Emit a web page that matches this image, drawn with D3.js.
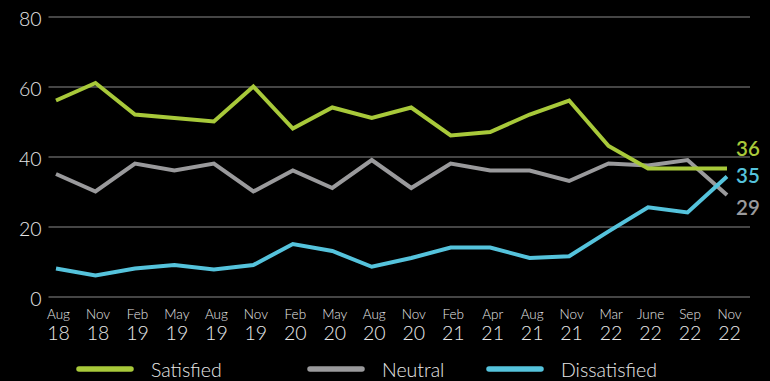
<!DOCTYPE html>
<html>
<head>
<meta charset="utf-8">
<script src="https://cdn.jsdelivr.net/npm/d3@7"></script>
<style>
  html, body { margin: 0; padding: 0; background: #000; }
  svg { display: block; }
  text { font-family: Lato, "Open Sans", sans-serif; }
</style>
</head>
<body>
<svg id="chart" width="770" height="381"></svg>
<script>
const months = ["Aug","Nov","Feb","May","Aug","Nov","Feb","May","Aug","Nov","Feb","Apr","Aug","Nov","Mar","June","Sep","Nov"];
const years  = ["18","18","19","19","19","19","20","20","20","20","21","21","21","21","22","22","22","22"];
const categories = months.map((m, i) => m + " " + years[i]);

const satisfied    = [56, 61, 52, 51, 50, 60, 48, 54, 51, 54, 46, 47, 52, 56, 43, 36.6, 36.6, 36.6];
const neutral      = [35, 30, 38, 36, 38, 30, 36, 31, 39, 31, 38, 36, 36, 33, 38, 37.4, 39, 29];
const dissatisfied = [8, 6, 8, 9, 7.7, 9, 15, 13, 8.5, 11, 14, 14, 11, 11.5, 18.6, 25.5, 24, 34.3];

const seriesNames = ["Satisfied", "Neutral", "Dissatisfied"];
const seriesColors = ["#a8c93a", "#9a9a9c", "#55c3dc"];
const endLabels = ["36", "29", "35"];
const yTicks = [0, 20, 40, 60, 80];

const svg = d3.select("#chart");

const x = d3.scalePoint().domain(categories).range([56, 727]);
const y = d3.scaleLinear().domain([0, 80]).range([296.5, 16.5]);

// gridlines + y labels
const yAxis = d3.axisLeft(y).tickValues(yTicks).tickSize(-(750 - 48.5)).tickPadding(8);
const gy = svg.append("g").attr("transform", "translate(48.5,0)").call(yAxis);
gy.select(".domain").remove();
gy.selectAll(".tick line").attr("stroke", "#5c5c5c").attr("stroke-width", 1.5);
gy.selectAll(".tick text")
  .attr("fill", "#e8e8e8")
  .attr("font-size", 19.5)
  .attr("font-weight", 300)
  .attr("x", -7)
  .attr("dy", "0.48em");

// x labels
const gx = svg.append("g");
const lab = gx.selectAll("g.xl").data(categories).join("g")
  .attr("class", "xl")
  .attr("transform", d => `translate(${x(d) + 2.5},0)`);
lab.append("text")
  .attr("text-anchor", "middle")
  .attr("y", 319)
  .attr("fill", "#e8e8e8")
  .attr("font-size", 13.5)
  .attr("font-weight", 300)
  .text((d, i) => months[i]);
lab.append("text")
  .attr("text-anchor", "middle")
  .attr("y", 340)
  .attr("fill", "#e8e8e8")
  .attr("font-size", 19.5)
  .attr("font-weight", 300)
  .text((d, i) => years[i]);

// lines
const allSeries = [satisfied, neutral, dissatisfied];
const line = d3.line().x((d, i) => x(categories[i])).y(d => y(d));
[1, 0, 2].forEach(k => {
  svg.append("path")
    .datum(allSeries[k])
    .attr("fill", "none")
    .attr("stroke", seriesColors[k])
    .attr("stroke-width", 4)
    .attr("stroke-linejoin", "miter")
    .attr("d", line);
});

// end labels
const endDy = [-14.5, 20, 9];
allSeries.forEach((s, k) => {
  svg.append("text")
    .attr("x", 736)
    .attr("y", y(+endLabels[k]) + endDy[k])
    .attr("fill", seriesColors[k])
    .attr("font-size", 20.5)
    .attr("font-weight", 600)
    .text(endLabels[k]);
});

// legend
const legendX = [77, 308, 487];
seriesNames.forEach((n, k) => {
  const g = svg.append("g").attr("transform", `translate(${legendX[k]},369)`);
  g.append("line")
    .attr("x1", 2).attr("x2", 54)
    .attr("stroke", seriesColors[k])
    .attr("stroke-width", 5.5)
    .attr("stroke-linecap", "round");
  g.append("text")
    .attr("x", 74)
    .attr("y", 7.5)
    .attr("fill", "#e8e8e8")
    .attr("font-size", 19.5)
    .attr("font-weight", 300)
    .text(n);
});
</script>
</body>
</html>
